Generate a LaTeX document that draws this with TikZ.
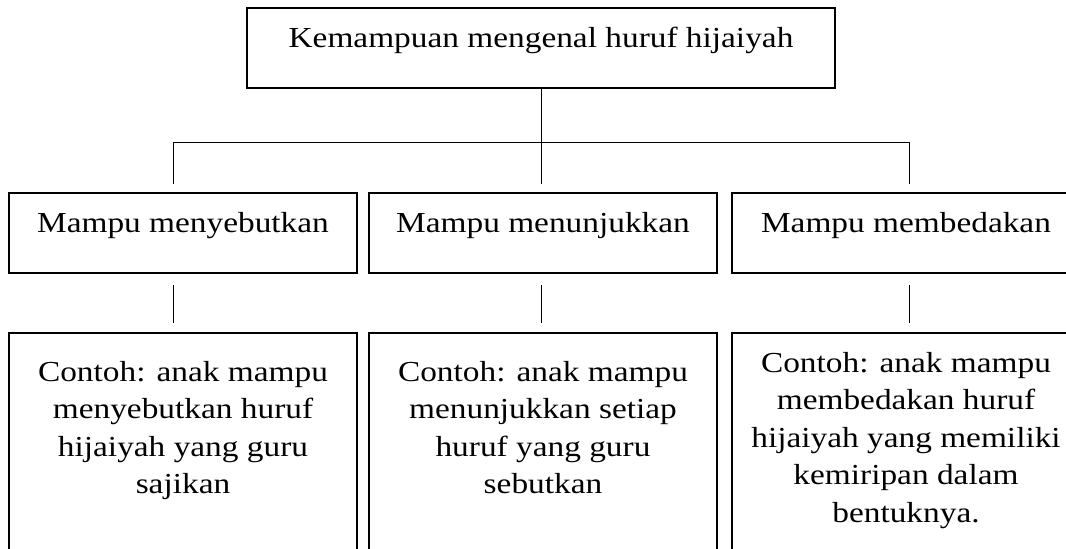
\documentclass[tikz,border=0pt]{standalone}
\usepackage{fontspec}
\setmainfont{Liberation Serif}[FakeStretch=1.15]
\begin{document}
\begin{tikzpicture}[x=1pt,y=-1pt,
  box/.style={draw,line width=1.1pt,inner sep=0pt},
  topbox/.style={draw,line width=2.2pt,inner sep=0pt},
  conn/.style={line width=1pt},
  txt/.style={inner sep=0pt,align=center,font=\fontsize{29}{37.5}\selectfont}]
\useasboundingbox (0,0) rectangle (1066,549);
\clip (0,0) rectangle (1066,549);
% top
\node[topbox,minimum width=588pt,minimum height=80pt] (top) at (541,48) {};
\node[txt,anchor=base] (toptxt) at (541,47) {Kemampuan mengenal huruf hijaiyah};
% middle boxes
\node[box,minimum width=348pt,minimum height=80pt] (m1) at (183,233) {};
\node[box,minimum width=348pt,minimum height=80pt] (m2) at (543,233) {};
\node[box,minimum width=348pt,minimum height=80pt] (m3) at (906,233) {};
\node[txt,anchor=base] (m1t) at (183,232) {Mampu menyebutkan};
\node[txt,anchor=base] (m2t) at (543,232) {Mampu menunjukkan};
\node[txt,anchor=base] (m3t) at (906,232) {Mampu membedakan};
% bottom boxes
\node[box,minimum width=348pt,minimum height=240pt] (b1) at (183,453) {};
\node[box,minimum width=348pt,minimum height=240pt] (b2) at (543,453) {};
\node[box,minimum width=348pt,minimum height=240pt] (b3) at (906,453) {};
\node[txt,anchor=north] (b1t) at (183,361) {Contoh: anak mampu\\menyebutkan huruf\\hijaiyah yang guru\\sajikan};
\node[txt,anchor=north] (b2t) at (543,361) {Contoh: anak mampu\\menunjukkan setiap\\huruf yang guru\\sebutkan};
\node[txt,anchor=north] (b3t) at (906,352) {Contoh: anak mampu\\membedakan huruf\\hijaiyah yang memiliki\\kemiripan dalam\\bentuknya.};
% connectors
\coordinate (hub) at (541,142);
\coordinate (hl) at (173,142);
\coordinate (hr) at (909,142);
\coordinate (d1) at (173,184);
\coordinate (d2) at (541,184);
\coordinate (d3) at (909,184);
\coordinate (u1) at (173,285);
\coordinate (u2) at (541,285);
\coordinate (u3) at (909,285);
\coordinate (l1) at (173,323);
\coordinate (l2) at (541,323);
\coordinate (l3) at (909,323);
\draw[conn] (top.south) -- (hub);
\draw[conn] (d1) -- (hl) -- (hr) -- (d3);
\draw[conn] (hub) -- (d2);
\draw[conn] (u1) -- (l1);
\draw[conn] (u2) -- (l2);
\draw[conn] (u3) -- (l3);
\end{tikzpicture}
\end{document}
